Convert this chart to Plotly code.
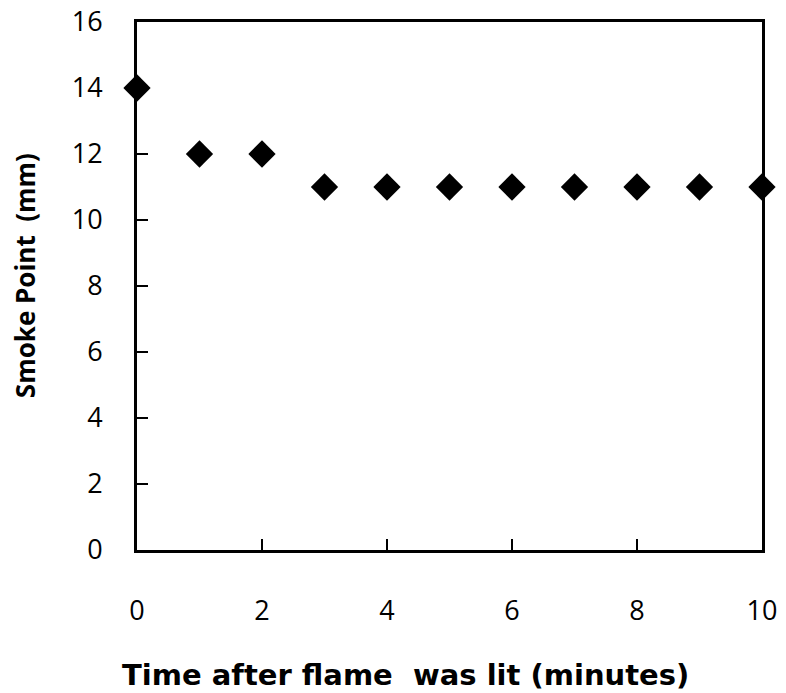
import plotly.graph_objects as go

# Smoke point readings over time after ignition
minutes = [0, 1, 2, 3, 4, 5, 6, 7, 8, 9, 10]
smoke_point_mm = [14, 12, 12, 11, 11, 11, 11, 11, 11, 11, 11]

x_ticks = [0, 2, 4, 6, 8, 10]
y_ticks = [0, 2, 4, 6, 8, 10, 12, 14, 16]

x_title = "Time after flame  was lit (minutes)"
y_title = "Smoke Point  (mm)"

font_family = "'Open Sans', Lato, sans-serif"

fig = go.Figure(
    go.Scatter(
        x=minutes,
        y=smoke_point_mm,
        mode="markers",
        marker=dict(symbol="diamond", size=21, color="black"),
        cliponaxis=False,
        showlegend=False,
    )
)

axis_common = dict(
    showgrid=False,
    zeroline=False,
    showline=True,
    linecolor="black",
    linewidth=3,
    mirror=True,
    ticks="inside",
    ticklen=11,
    tickwidth=2,
    tickcolor="black",
    tickfont=dict(family=font_family, size=27, color="black"),
)

fig.update_xaxes(range=[0, 10], tickvals=x_ticks, ticklabelstandoff=35, **axis_common)
fig.update_yaxes(range=[0, 16], tickvals=y_ticks, ticklabelstandoff=26, **axis_common)

# Axis titles placed as annotations, slightly off-centre from the plot area
fig.add_annotation(
    text=f"<b>{x_title}</b>",
    xref="paper", yref="paper",
    x=0.429, y=-0.237,
    xanchor="center", yanchor="middle",
    showarrow=False,
    font=dict(family="'DejaVu Sans', sans-serif", size=29, color="black"),
)
fig.add_annotation(
    text=f"<b>{y_title}</b>",
    xref="paper", yref="paper",
    x=-0.178, y=0.52,
    xanchor="center", yanchor="middle",
    textangle=-90,
    showarrow=False,
    font=dict(family=font_family, size=26, color="black"),
)

fig.update_layout(
    width=786,
    height=693,
    margin=dict(l=137, r=24, t=22, b=143, autoexpand=False),
    paper_bgcolor="white",
    plot_bgcolor="white",
)

fig.write_html("out.html")
